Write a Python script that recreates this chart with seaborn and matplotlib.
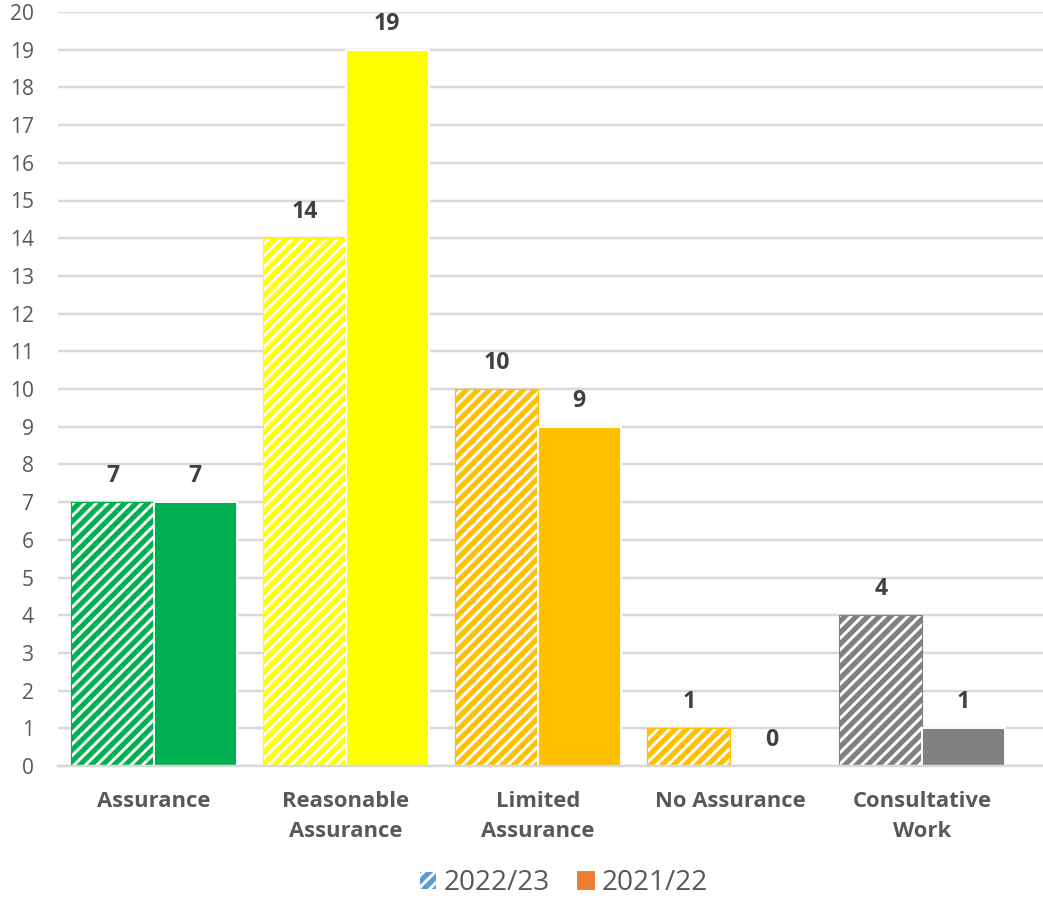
import matplotlib
matplotlib.use("Agg")
import matplotlib.pyplot as plt
import seaborn as sns
import pandas as pd
from matplotlib.patches import Patch

categories = ["Assurance", "Reasonable\nAssurance", "Limited\nAssurance", "No Assurance", "Consultative\nWork"]
years = ["2022/23", "2021/22"]
values_2223 = [7, 14, 10, 1, 4]
values_2122 = [7, 19, 9, 0, 1]
cat_colors = ["#00B050", "#FFFF00", "#FFC000", "#FFC000", "#808080"]
legend_colors = ["#5B9BD5", "#ED7D31"]

DPI = 137
def pt(px):
    return px * 72.0 / DPI

sns.set_theme(style="white")
plt.rcParams['font.family'] = ['Open Sans', 'DejaVu Sans']
plt.rcParams['hatch.linewidth'] = 2.7

df = pd.DataFrame({
    "category": categories * 2,
    "year": [years[0]] * 5 + [years[1]] * 5,
    "value": values_2223 + values_2122,
})

fig = plt.figure(figsize=(1043 / DPI, 898 / DPI), dpi=DPI)
ax = fig.add_axes([58 / 1043, 1 - 766 / 898, 1 - 58 / 1043, (766 - 12) / 898])

sns.barplot(data=df, x="category", y="value", hue="year", hue_order=years,
            order=categories, ax=ax, width=0.86, legend=False, saturation=1)

# style bars
for hi, cont in enumerate(ax.containers):
    for ci, bar in enumerate(cont):
        col = cat_colors[ci]
        if hi == 0:
            bar.set_facecolor("white")
            bar.set_edgecolor(col)
            bar.set_hatch("////")
            bar.set_linewidth(0.6)
        else:
            bar.set_facecolor(col)
            bar.set_edgecolor("white")
            bar.set_linewidth(1.0)
    labels = [str(int(v)) for v in (values_2223 if hi == 0 else values_2122)]
    ax.bar_label(cont, labels=labels, padding=pt(14), fontsize=pt(23),
                 fontweight="bold", color="#404040")

ax.set_ylim(0, 20)
ax.set_yticks(range(0, 21))
ax.set_xlim(-0.5, -0.5 + 985 / 192)
ax.yaxis.grid(True, color="#D9D9D9", linewidth=1.3)
ax.set_axisbelow(True)
for s in ["left", "right", "top"]:
    ax.spines[s].set_visible(False)
ax.spines["bottom"].set_color("#D9D9D9")
ax.spines["bottom"].set_linewidth(1.3)
ax.tick_params(axis="y", labelsize=pt(21), colors="#595959", length=0, pad=pt(24))
ax.tick_params(axis="x", labelsize=pt(22), colors="#595959", length=0, pad=pt(25))
for lab in ax.get_xticklabels():
    lab.set_fontweight("bold")
    lab.set_linespacing(1.55)
ax.set_xlabel("")
ax.set_ylabel("")

handles = [Patch(facecolor="white", edgecolor=legend_colors[0], hatch="////", linewidth=0),
           Patch(facecolor=legend_colors[1], edgecolor=legend_colors[1])]
fig.legend(handles, years, loc="center", bbox_to_anchor=(0.541, 1 - 883 / 898),
           ncol=2, frameon=False, fontsize=pt(28), labelcolor="#595959",
           handlelength=0.55, handleheight=0.55, handletextpad=0.3, columnspacing=1.0)

fig.savefig("out.png", dpi=DPI)
